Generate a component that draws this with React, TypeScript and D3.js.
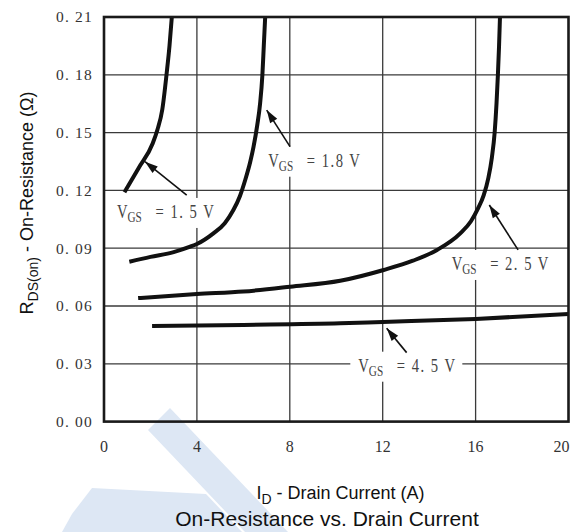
import React from 'react';
import * as d3 from 'd3';

// Axis ticks
const xTicks = [0, 4, 8, 12, 16, 20];
const yTicks = [0, 0.03, 0.06, 0.09, 0.12, 0.15, 0.18, 0.21];
const yTickLabels = ['0. 00', '0. 03', '0. 06', '0. 09', '0. 12', '0. 15', '0. 18', '0. 21'];

// On-resistance curves: [drain current (A), R_DS(on) (Ω)]
const vgs15: [number, number][] = [
  [0.88, 0.119], [1.5, 0.1318], [2.1, 0.1445], [2.3, 0.1515], [2.51, 0.162],
  [2.7, 0.181], [2.82, 0.195], [2.92, 0.21],
];
const vgs18: [number, number][] = [
  [1.09, 0.083], [2.0, 0.0855], [3.0, 0.088], [3.71, 0.0908], [4.0, 0.0922],
  [4.71, 0.0977], [5.2, 0.103], [5.57, 0.1098], [5.85, 0.117], [6.08, 0.1254],
  [6.3, 0.135], [6.44, 0.1427], [6.6, 0.154], [6.72, 0.165], [6.82, 0.18],
  [6.88, 0.195], [6.94, 0.21],
];
const vgs25: [number, number][] = [
  [1.47, 0.0641], [4.0, 0.0662], [6.0, 0.0675], [8.02, 0.07], [10.17, 0.0731],
  [12.04, 0.0787], [13.3, 0.0835], [14.34, 0.0891], [15.34, 0.0977], [15.8, 0.104],
  [16.1, 0.1105], [16.35, 0.1175], [16.55, 0.1265], [16.7, 0.137], [16.82, 0.15],
  [16.9, 0.165], [16.96, 0.18], [17.01, 0.195], [17.05, 0.21],
];
const vgs45: [number, number][] = [
  [2.07, 0.0496], [6.0, 0.0502], [10.17, 0.051], [12.0, 0.0517], [16.0, 0.0533], [20.0, 0.0558],
];
const curves = [vgs15, vgs18, vgs25, vgs45];

// Callouts: label text, label anchor, arrow tip, arrow tail (data units)
const calloutTexts = ['= 1. 5 V', '= 1.8 V', '= 2. 5 V', '= 4. 5 V'];
const calloutAnchors: [number, number][] = [[0.56, 0.1057], [7.074, 0.1323], [14.97, 0.0787], [10.95, 0.0259]];
const calloutTips: [number, number][] = [[1.765, 0.1349], [7.005, 0.1617], [16.59, 0.1124], [12.17, 0.0484]];
const calloutTails: [number, number][] = [[3.561, 0.1176], [8.009, 0.1427], [17.83, 0.0891], [13.03, 0.0358]];

const W = 573;
const H = 532;
const plot = { left: 104, right: 568.5, top: 17, bottom: 421.6 };

const serif = '"Liberation Serif", "DejaVu Serif", serif';
const sans = '"Liberation Sans", Arial, sans-serif';

function arrowHead(tip: [number, number], tail: [number, number], len = 13, half = 4.2) {
  const dx = tail[0] - tip[0];
  const dy = tail[1] - tip[1];
  const d = Math.hypot(dx, dy);
  const ux = dx / d;
  const uy = dy / d;
  const bx = tip[0] + ux * len;
  const by = tip[1] + uy * len;
  return `${tip[0]},${tip[1]} ${bx - uy * half},${by + ux * half} ${bx + uy * half},${by - ux * half}`;
}

export default function App() {
  const x = d3.scaleLinear().domain([0, 20]).range([plot.left, plot.right]);
  const y = d3.scaleLinear().domain([0, 0.21]).range([plot.bottom, plot.top]);

  const line = d3
    .line<[number, number]>()
    .x((d) => x(d[0]))
    .y((d) => y(d[1]))
    .curve(d3.curveMonotoneX);

  const gridColor = '#3a3a3a';
  const squeeze = 0.75;

  return (
    <svg
      width={W}
      height={H}
      viewBox={`0 0 ${W} ${H}`}
      style={{ position: 'absolute', left: 0, top: 0, background: '#fff' }}
    >
      <defs>
        <clipPath id="plot-clip">
          <rect x={plot.left} y={plot.top} width={plot.right - plot.left} height={plot.bottom - plot.top} />
        </clipPath>
      </defs>
      <rect x={0} y={0} width={W} height={H} fill="#fff" />

      {/* faint logo mark in the lower left */}
      <g fill="#dde7f4">
        <polygon points="170,408 148,430 245,532 288,532" />
        <polygon points="92,488 206,494 242,532 62,532 72,514" />
      </g>

      {/* grid */}
      <g stroke={gridColor} strokeWidth={1.3}>
        {xTicks.slice(1, -1).map((t) => (
          <line key={`gx${t}`} x1={x(t)} x2={x(t)} y1={plot.top} y2={plot.bottom} />
        ))}
        {yTicks.slice(1, -1).map((t) => (
          <line key={`gy${t}`} x1={plot.left} x2={plot.right} y1={y(t)} y2={y(t)} />
        ))}
      </g>

      {/* label backgrounds break the grid */}
      <g fill="#fff">
        {calloutAnchors.map((a, i) => (
          <rect key={`bg${i}`} x={x(a[0]) - 8} y={y(a[1]) - 20} width={112} height={30} />
        ))}
      </g>

      {/* curves */}
      <g clipPath="url(#plot-clip)" fill="none" stroke="#111" strokeWidth={4} strokeLinecap="butt">
        {curves.map((c, i) => (
          <path key={`c${i}`} d={line(c) ?? ''} />
        ))}
      </g>

      {/* frame */}
      <rect
        x={plot.left}
        y={plot.top}
        width={plot.right - plot.left}
        height={plot.bottom - plot.top}
        fill="none"
        stroke="#1a1a1a"
        strokeWidth={2.6}
      />

      {/* callouts */}
      {calloutAnchors.map((a, i) => {
        const tip: [number, number] = [x(calloutTips[i][0]), y(calloutTips[i][1])];
        const tail: [number, number] = [x(calloutTails[i][0]), y(calloutTails[i][1])];
        const lx = x(a[0]);
        const ly = y(a[1]);
        return (
          <g key={`co${i}`}>
            <line x1={tail[0]} y1={tail[1]} x2={tip[0]} y2={tip[1]} stroke="#111" strokeWidth={1.6} />
            <polygon points={arrowHead(tip, tail)} fill="#111" />
            <g transform={`translate(${lx},${ly}) scale(${squeeze},1)`}>
              <text fontFamily={serif} fill="#444" fontSize={19.5}>
                <tspan x={0} y={0}>V</tspan>
                <tspan x={10.5 / squeeze} y={4} fontSize={15}>GS</tspan>
                <tspan x={38.5 / squeeze} y={0} letterSpacing={2}>{calloutTexts[i]}</tspan>
              </text>
            </g>
          </g>
        );
      })}

      {/* y tick labels */}
      <g fontFamily={serif} fontSize={15.5} fill="#333" textAnchor="end">
        {yTicks.map((t, i) => (
          <text key={`yl${t}`} x={plot.left - 11} y={y(t)} dy="0.35em" letterSpacing={1.2}>
            {yTickLabels[i]}
          </text>
        ))}
      </g>

      {/* x tick labels */}
      <g fontFamily={serif} fontSize={16} fill="#333" textAnchor="middle">
        {xTicks.map((t) => (
          <text key={`xl${t}`} x={Math.min(x(t), 561.5)} y={451.5}>
            {t}
          </text>
        ))}
      </g>

      {/* axis titles */}
      <text x={340.5} y={499} fontFamily={sans} fontSize={18} fill="#111" textAnchor="middle">
        I<tspan fontSize={14} dy={5}>D</tspan>
        <tspan dy={-5}> - Drain Current (A)</tspan>
      </text>
      <text
        transform="translate(33, 203) rotate(-90)"
        fontFamily={sans}
        fontSize={18}
        fill="#111"
        textAnchor="middle"
      >
        R<tspan fontSize={14} dy={5}>DS(on)</tspan>
        <tspan dy={-5}> - On-Resistance (Ω)</tspan>
      </text>

      {/* chart title */}
      <text x={327} y={526} fontFamily={sans} fontSize={21} fill="#111" textAnchor="middle">
        On-Resistance vs. Drain Current
      </text>
    </svg>
  );
}
